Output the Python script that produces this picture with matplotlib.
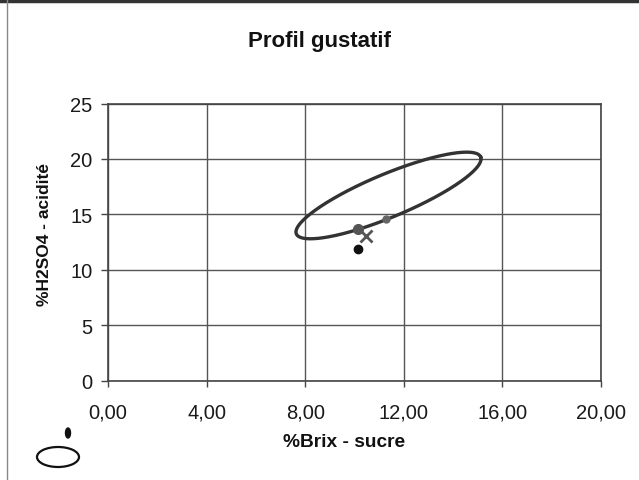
import numpy as np
import matplotlib
matplotlib.use("Agg")
import matplotlib.pyplot as plt
from matplotlib.patches import Ellipse
from matplotlib.lines import Line2D
import matplotlib.ticker as mticker

plt.rcParams['font.family'] = ['Liberation Sans', 'DejaVu Sans']

# ---- data ----
title = "Profil gustatif"
x_label = "%Brix - sucre"
y_label = "%H2SO4 - acidité"
x_ticks = [0, 4, 8, 12, 16, 20]
y_ticks = [0, 5, 10, 15, 20, 25]

# ellipse (center, semi-axis vectors in data units)
ell_center = (11.38, 16.70)
ell_axis1 = (3.74, 3.47)
ell_axis2 = (-0.33, 1.80)

pts_x = [10.14, 10.47, 11.27, 10.14]
pts_y = [13.67, 13.07, 14.58, 11.87]
pts_marker = ['o', 'x', 'o', 'o']
pts_color = ['#555555', '#555555', '#666666', '#111111']
pts_size = [7, 8, 5, 6]

W, H = 639, 481
fig = plt.figure(figsize=(W / 100, H / 100), dpi=100)
ax = fig.add_axes([108 / W, 1 - 381.5 / H, (601 - 108) / W, (381.5 - 104.5) / H])

# ellipse curve
t = np.linspace(0, 2 * np.pi, 400)
ex = ell_center[0] + np.cos(t) * ell_axis1[0] + np.sin(t) * ell_axis2[0]
ey = ell_center[1] + np.cos(t) * ell_axis1[1] + np.sin(t) * ell_axis2[1]
ax.plot(ex, ey, color='#333333', lw=2.4, zorder=3)

for x, y, m, c, s in zip(pts_x, pts_y, pts_marker, pts_color, pts_size):
    if m == 'x':
        ax.plot(x, y, marker=m, color=c, ms=s, mew=2, ls='none', zorder=4)
    else:
        ax.plot(x, y, marker=m, color=c, ms=s, mec=c, ls='none', zorder=4)

ax.set_xlim(0, 20)
ax.set_ylim(0, 25)
ax.set_xticks(x_ticks)
ax.set_yticks(y_ticks)
ax.xaxis.set_major_formatter(mticker.FuncFormatter(lambda v, p: f"{v:.2f}".replace('.', ',')))
ax.grid(True, color='#555555', lw=1.0)
ax.set_axisbelow(True)
for sp in ax.spines.values():
    sp.set_color('#444444')
    sp.set_linewidth(1.2)
ax.tick_params(axis='x', direction='out', length=4, width=1, color='#444444',
               labelsize=14.5, pad=12, labelcolor='#1a1a1a')
ax.tick_params(axis='y', direction='out', length=5, width=1, color='#444444',
               labelsize=14.5, pad=6, labelcolor='#1a1a1a')

fig.text(319 / W, 1 - 42 / H, title, ha='center', va='center',
         fontsize=16, fontweight='bold', color='#111111')
fig.text(344 / W, 1 - 443 / H, x_label, ha='center', va='center',
         fontsize=13.8, fontweight='bold', color='#111111')
fig.text(45 / W, 1 - 234 / H, y_label, ha='center', va='center', rotation=90,
         fontsize=12.5, fontweight='bold', color='#111111')

# legend glyphs (lower left)
fig.add_artist(Ellipse((58 / W, 1 - 458 / H), 42 / W, 20 / H,
                       transform=fig.transFigure, fill=False, lw=1.6, ec='#111111'))
fig.add_artist(Ellipse((68 / W, 1 - 434 / H), 5 / W, 10 / H,
                       transform=fig.transFigure, fc='#111111', ec='#111111'))

# page borders
fig.add_artist(Line2D([0, 1], [1 - 1.5 / H, 1 - 1.5 / H], transform=fig.transFigure,
                      color='#333333', lw=2.5))
fig.add_artist(Line2D([7 / W, 7 / W], [0, 1], transform=fig.transFigure,
                      color='#888888', lw=1))

fig.savefig('out.png', dpi=100)
